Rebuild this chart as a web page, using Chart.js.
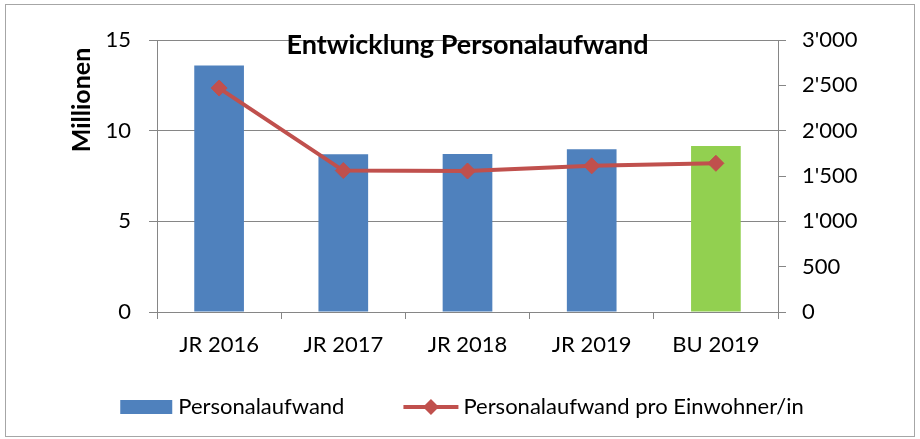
<!DOCTYPE html>
<html lang="de">
<head>
    <meta charset="UTF-8">
    <title>Entwicklung Personalaufwand</title>
    <script src="https://cdn.jsdelivr.net/npm/chart.js"></script>
    <style>
        body {
            margin: 0;
            background: #fff;
        }
        #chart {
            display: block;
        }
    </style>
</head>
<body>
    <canvas id="chart" width="920" height="439"></canvas>

    <script>
        // Data
        const categories = ['JR 2016', 'JR 2017', 'JR 2018', 'JR 2019', 'BU 2019'];
        const personalaufwand = [13.6, 8.7, 8.72, 8.97, 9.16];          // Millionen
        const proEinwohner = [2470, 1560, 1555, 1612, 1640];           // pro Einwohner/in
        const barColors = ['#4F81BD', '#4F81BD', '#4F81BD', '#4F81BD', '#92D050'];
        const leftTicks = [0, 5, 10, 15];

        const FONT = 'Lato, "Open Sans", sans-serif';
        const lineColor = '#C0504D';

        // swiss style thousands separator
        function swiss(v) {
            return String(v).replace(/\B(?=(\d{3})+(?!\d))/g, "'");
        }

        // frame, title, y-title and legend drawn on top
        const decorations = {
            id: 'decorations',
            afterDraw(chart) {
                const ctx = chart.ctx;
                const area = chart.chartArea;
                ctx.save();

                // outer frame
                ctx.strokeStyle = '#a6a6a6';
                ctx.lineWidth = 1;
                ctx.strokeRect(5.5, 4.5, 909, 432);

                // title inside the plot
                ctx.fillStyle = '#000';
                ctx.font = 'bold 27px ' + FONT;
                ctx.textAlign = 'center';
                ctx.textBaseline = 'middle';
                ctx.fillText('Entwicklung Personalaufwand', (area.left + area.right) / 2, area.top + 5);

                // left axis title
                ctx.save();
                ctx.translate(82, 100);
                ctx.rotate(-Math.PI / 2);
                ctx.font = 'bold 25px ' + FONT;
                ctx.fillText('Millionen', 0, 0);
                ctx.restore();

                // legend
                ctx.font = '22px ' + FONT;
                ctx.textAlign = 'left';
                const t1 = chart.data.datasets[1].label;
                const t2 = chart.data.datasets[0].label;
                const w1 = ctx.measureText(t1).width;
                const w2 = ctx.measureText(t2).width;
                const total = 52 + 6 + w1 + 59 + 55 + 5 + w2;
                let x = 462 - total / 2;
                const y = 407;
                ctx.fillStyle = barColors[0];
                ctx.fillRect(x, y - 7, 52, 14);
                x += 58;
                ctx.fillStyle = '#000';
                ctx.fillText(t1, x, y);
                x += w1 + 59;
                ctx.strokeStyle = lineColor;
                ctx.lineWidth = 4;
                ctx.beginPath();
                ctx.moveTo(x, y);
                ctx.lineTo(x + 55, y);
                ctx.stroke();
                ctx.fillStyle = lineColor;
                ctx.beginPath();
                const cx = x + 27.5;
                ctx.moveTo(cx, y - 8);
                ctx.lineTo(cx + 8, y);
                ctx.lineTo(cx, y + 8);
                ctx.lineTo(cx - 8, y);
                ctx.closePath();
                ctx.fill();
                x += 60;
                ctx.fillStyle = '#000';
                ctx.fillText(t2, x, y);

                ctx.restore();
            }
        };

        const ctx = document.getElementById('chart').getContext('2d');
        const chart = new Chart(ctx, {
            type: 'bar',
            data: {
                labels: categories,
                datasets: [
                    {
                        type: 'line',
                        label: 'Personalaufwand pro Einwohner/in',
                        data: proEinwohner,
                        yAxisID: 'y1',
                        borderColor: lineColor,
                        backgroundColor: lineColor,
                        borderWidth: 4,
                        pointStyle: 'rectRot',
                        pointRadius: 8,
                        pointBorderWidth: 1,
                        tension: 0,
                        order: 0
                    },
                    {
                        label: 'Personalaufwand',
                        data: personalaufwand,
                        yAxisID: 'y',
                        backgroundColor: barColors,
                        barPercentage: 0.8,
                        categoryPercentage: 0.5,
                        order: 1
                    }
                ]
            },
            options: {
                responsive: false,
                animation: false,
                devicePixelRatio: 1,
                layout: {
                    padding: { top: 40, left: 0, right: 0, bottom: 0 }
                },
                plugins: {
                    legend: { display: false },
                    title: { display: false },
                    tooltip: { enabled: false }
                },
                scales: {
                    x: {
                        afterFit: s => { s.height = 127; },
                        grid: {
                            display: true,
                            drawOnChartArea: false,
                            tickLength: 7,
                            color: '#868686'
                        },
                        border: { color: '#868686', width: 1 },
                        ticks: {
                            color: '#000',
                            font: { family: FONT, size: 22 },
                            padding: 13
                        }
                    },
                    y: {
                        position: 'left',
                        min: 0,
                        max: 15,
                        afterFit: s => { s.width = 157; },
                        afterBuildTicks: s => { s.ticks = leftTicks.map(v => ({ value: v })); },
                        grid: {
                            color: '#868686',
                            tickLength: 8
                        },
                        border: { color: '#868686', width: 1 },
                        ticks: {
                            color: '#000',
                            font: { family: FONT, size: 22 },
                            padding: 18
                        }
                    },
                    y1: {
                        position: 'right',
                        min: 0,
                        max: 3000,
                        afterFit: s => { s.width = 142; },
                        grid: {
                            drawOnChartArea: false,
                            color: '#868686',
                            tickLength: 8
                        },
                        border: { color: '#868686', width: 1 },
                        ticks: {
                            stepSize: 500,
                            color: '#000',
                            font: { family: FONT, size: 22 },
                            padding: 16,
                            callback: v => swiss(v)
                        }
                    }
                }
            },
            plugins: [decorations]
        });
    </script>
</body>
</html>
